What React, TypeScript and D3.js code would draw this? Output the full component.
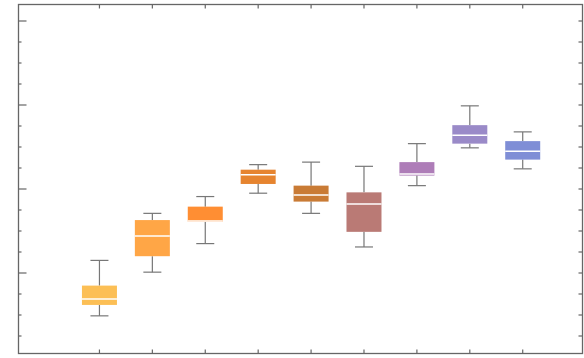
// Box plot of nine groups: frame with inward ticks, no labels.
import * as d3 from "d3";

const categories = [1, 2, 3, 4, 5, 6, 7, 8, 9];
const whiskerLow = [0.49, 1.01, 1.35, 1.95, 1.71, 1.31, 2.04, 2.49, 2.24];
const q1 = [0.62, 1.2, 1.61, 2.06, 1.85, 1.49, 2.16, 2.54, 2.35];
const medians = [0.69, 1.44, 1.62, 2.17, 1.93, 1.82, 2.18, 2.64, 2.45];
const q3 = [0.85, 1.63, 1.79, 2.23, 2.04, 1.96, 2.32, 2.76, 2.57];
const whiskerHigh = [1.15, 1.71, 1.91, 2.29, 2.32, 2.27, 2.54, 2.99, 2.68];
const colors = ["#FCBF55", "#FFA646", "#FF8E33", "#E6842F", "#C97B35", "#BA7A75", "#AE7DB8", "#9A8AC8", "#7F8ED6"];
const majorTicks = [1, 2, 3, 4];
const minorTicks = d3.range(0.25, 4.2, 0.25).filter((v) => !majorTicks.includes(v));

export default function App() {
  const width = 584;
  const height = 358;
  const left = 18.5, right = 582.5, top = 4.5, bottom = 353.5;

  const x = d3.scaleLinear().domain([-0.53, 10.13]).range([left, right]);
  const y = d3.scaleLinear().domain([0, 4]).range([357, 21]);

  const boxW = 35;
  const capW = 18;
  const axis = "#666";
  const whisker = "#777";

  return (
    <svg width={width} height={height} style={{ position: "absolute", left: 0, top: 0 }}>
      <rect x={0} y={0} width={width} height={height} fill="#fff" />
      {categories.map((c, i) => {
        const cx = x(c);
        return (
          <g key={c}>
            <line x1={cx} x2={cx} y1={y(whiskerHigh[i])} y2={y(q3[i])} stroke={whisker} strokeWidth={1.2} />
            <line x1={cx} x2={cx} y1={y(q1[i])} y2={y(whiskerLow[i])} stroke={whisker} strokeWidth={1.2} />
            <line x1={cx - capW / 2} x2={cx + capW / 2} y1={y(whiskerHigh[i])} y2={y(whiskerHigh[i])} stroke={whisker} strokeWidth={1.2} />
            <line x1={cx - capW / 2} x2={cx + capW / 2} y1={y(whiskerLow[i])} y2={y(whiskerLow[i])} stroke={whisker} strokeWidth={1.2} />
            <rect x={cx - boxW / 2} y={y(q3[i])} width={boxW} height={y(q1[i]) - y(q3[i])} fill={colors[i]} />
            <line x1={cx - boxW / 2} x2={cx + boxW / 2} y1={y(medians[i])} y2={y(medians[i])} stroke="#fff" strokeWidth={1.5} />
          </g>
        );
      })}
      {/* ticks */}
      {majorTicks.map((v) => (
        <g key={"M" + v}>
          <line x1={left} x2={left + 8} y1={y(v)} y2={y(v)} stroke={axis} strokeWidth={1.2} />
          <line x1={right} x2={right - 4} y1={y(v)} y2={y(v)} stroke={axis} strokeWidth={1.2} />
        </g>
      ))}
      {minorTicks.map((v) => (
        <g key={"m" + v}>
          <line x1={left} x2={left + 3} y1={y(v)} y2={y(v)} stroke={axis} strokeWidth={1.2} />
          <line x1={right} x2={right - 4} y1={y(v)} y2={y(v)} stroke={axis} strokeWidth={1.2} />
        </g>
      ))}
      {categories.map((c) => (
        <g key={"x" + c}>
          <line x1={x(c)} x2={x(c)} y1={bottom} y2={bottom - 4} stroke={axis} strokeWidth={1.2} />
          <line x1={x(c)} x2={x(c)} y1={top} y2={top + 4} stroke={axis} strokeWidth={1.2} />
        </g>
      ))}
      <rect x={left} y={top} width={right - left} height={bottom - top} fill="none" stroke={axis} strokeWidth={1.3} />
    </svg>
  );
}
